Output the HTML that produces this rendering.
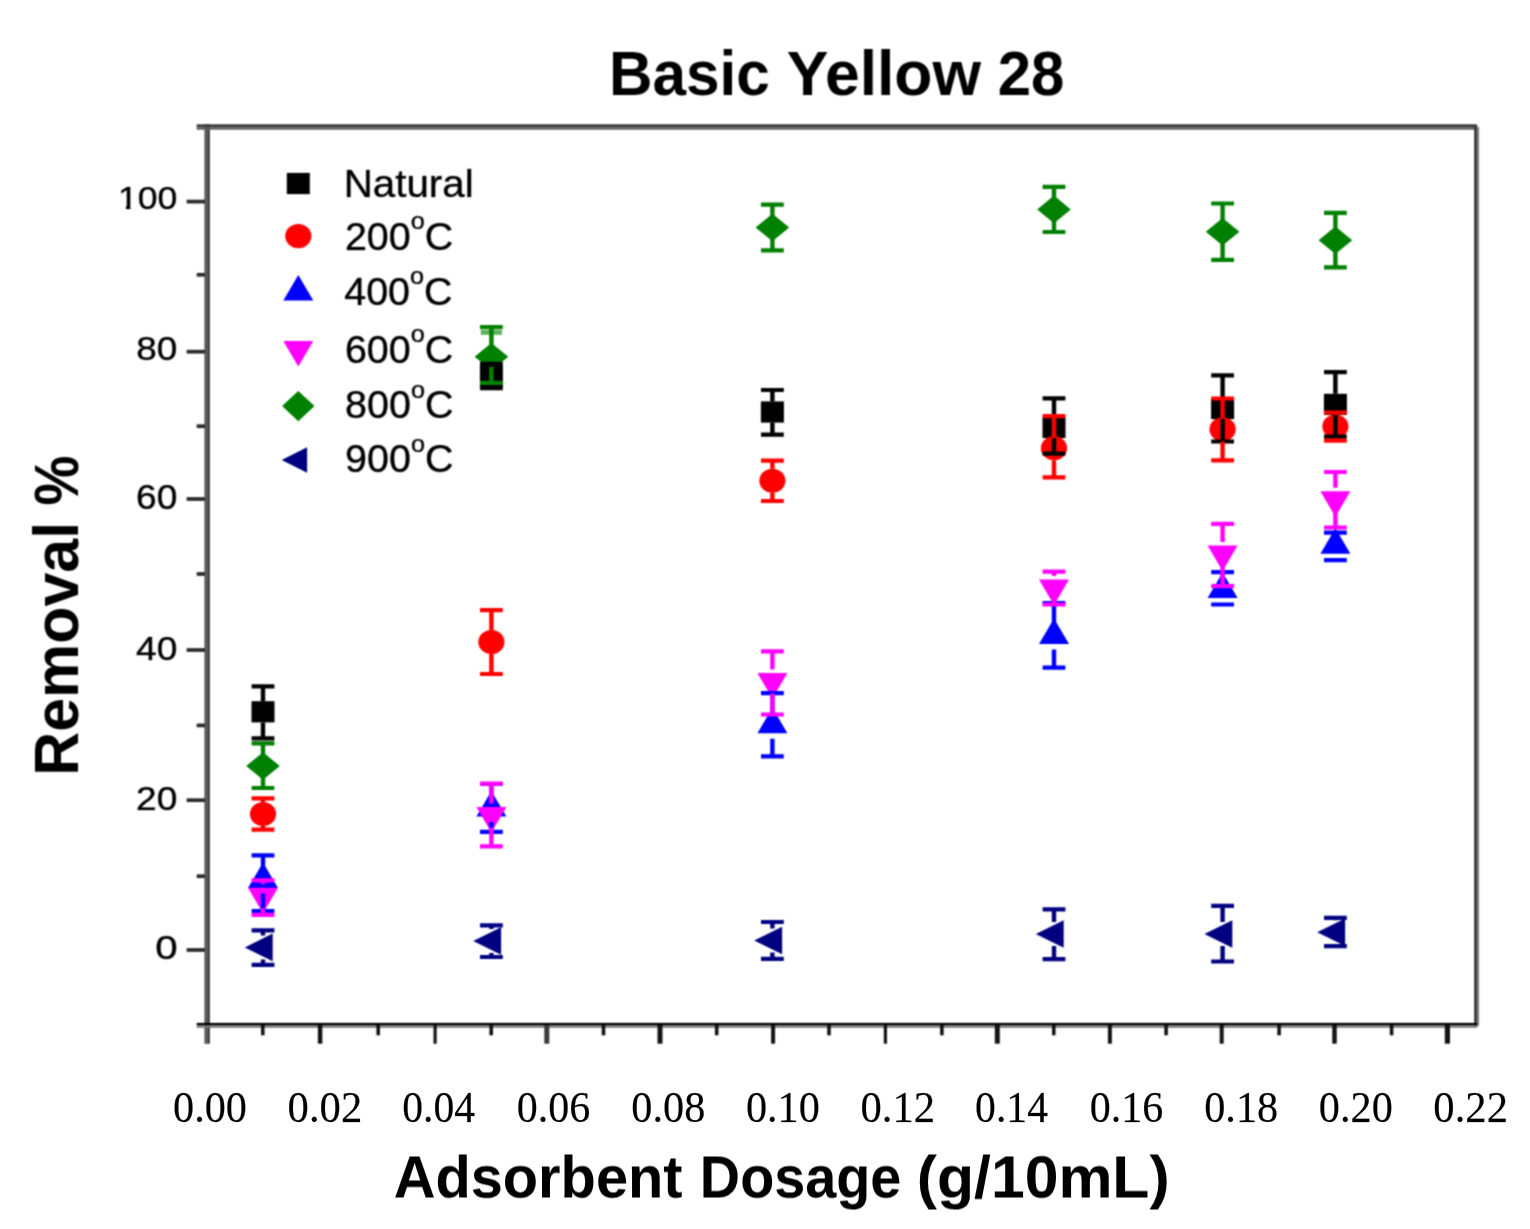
<!DOCTYPE html>
<html lang="en"><head><meta charset="utf-8"><title>Basic Yellow 28</title>
<style>
html,body{margin:0;padding:0;background:#fff;}
body{width:1530px;height:1229px;overflow:hidden;}
svg{display:block;}
text{font-family:"Liberation Sans",sans-serif;fill:#000;}
.ser{font-family:"Liberation Serif",serif;}
.b{font-weight:bold;}
.t{stroke:#000;stroke-width:0.7;stroke-opacity:0.55;paint-order:stroke;}
.s{stroke:#000;stroke-width:0.3;stroke-opacity:0.5;paint-order:stroke;}
</style></head><body>
<svg width="1530" height="1229" viewBox="0 0 1530 1229">
<rect width="1530" height="1229" fill="#fff"/>
<defs><filter id="bl" filterUnits="userSpaceOnUse" x="0" y="0" width="1530" height="1229" color-interpolation-filters="sRGB"><feConvolveMatrix order="3" kernelMatrix="1 2 1 2 4 2 1 2 1" divisor="16" edgeMode="duplicate" preserveAlpha="false"/></filter></defs>
<g filter="url(#bl)">
<text class="b" transform="matrix(1 0 0.0002 1 0 94.70)" font-size="63.24"><tspan x="608.98" textLength="160.84" lengthAdjust="spacingAndGlyphs">Basic</tspan> <tspan x="786.75" textLength="194.28" lengthAdjust="spacingAndGlyphs">Yellow</tspan> <tspan x="997.80" textLength="66.63" lengthAdjust="spacingAndGlyphs">28</tspan></text>
<rect x="204.4" y="124.2" width="2.8" height="919.6" fill="#5a5a5a"/>
<rect x="207.2" y="124.2" width="2.7" height="919.6" fill="#3e3e3e"/>
<rect x="196.7" y="124.3" width="1280.4" height="3" fill="#3c3c3c"/>
<rect x="196.7" y="127.3" width="1280.4" height="2.4" fill="#5c5c5c"/>
<rect x="1474.1" y="126.5" width="2.9" height="899.3" fill="#3e3e3e"/>
<rect x="1477" y="126.8" width="2.1" height="899" fill="#808080"/>
<rect x="196.7" y="1022.9" width="1280.6" height="2.6" fill="#000"/>
<rect x="196.7" y="1025.5" width="1280.6" height="2.3" fill="#7a7a7a"/>
<g stroke="#2e2e2e" stroke-width="3.8" fill="none">
<path d="M186.6,201.6H205"/>
<path d="M196.7,274.8H205"/>
<path d="M186.6,351.7H205"/>
<path d="M196.7,426.2H205"/>
<path d="M186.6,499.0H205"/>
<path d="M196.7,574.0H205"/>
<path d="M186.6,650.0H205"/>
<path d="M196.7,725.4H205"/>
<path d="M186.6,800.2H205"/>
<path d="M196.7,876.2H205"/>
<path d="M186.6,950.0H205"/>
</g>
<g stroke="#141414" fill="none">
<path d="M262.8,1025V1035.3" stroke-width="3.6"/>
<path d="M320.1,1025V1043.7" stroke-width="4.5"/>
<path d="M378.2,1025V1035.3" stroke-width="3.6"/>
<path d="M435.1,1025V1043.7" stroke-width="3.2"/>
<path d="M491.2,1025V1035.3" stroke-width="3.6"/>
<path d="M546.8,1025V1043.7" stroke-width="5" stroke="#3a3a3a"/>
<path d="M603.5,1025V1035.3" stroke-width="3.6"/>
<path d="M660.0,1025V1043.7" stroke-width="5"/>
<path d="M716.7,1025V1035.3" stroke-width="3.6"/>
<path d="M773.1,1025V1043.7" stroke-width="4"/>
<path d="M829.0,1025V1035.3" stroke-width="3.6"/>
<path d="M885.4,1025V1043.7" stroke-width="3.2"/>
<path d="M941.9,1025V1035.3" stroke-width="3.6"/>
<path d="M997.3,1025V1043.7" stroke-width="5"/>
<path d="M1053.8,1025V1035.3" stroke-width="3.6"/>
<path d="M1109.9,1025V1043.7" stroke-width="4"/>
<path d="M1166.1,1025V1035.3" stroke-width="3.6"/>
<path d="M1221.7,1025V1043.7" stroke-width="4"/>
<path d="M1279.1,1025V1035.3" stroke-width="3.6"/>
<path d="M1334.5,1025V1043.7" stroke-width="4.5"/>
<path d="M1391.6,1025V1035.3" stroke-width="3.6"/>
<path d="M1447.4,1025V1043.7" stroke-width="5.2"/>
</g>
<text class="t" transform="matrix(1.1084 0 0.0002 1 117.93 209.20)" font-size="32.14">100</text>
<text class="t" transform="matrix(1.0851 0 0.0002 1 136.24 360.00)" font-size="34.00">80</text>
<text class="t" transform="matrix(1.0724 0 0.0002 1 136.05 508.60)" font-size="34.57">60</text>
<text class="t" transform="matrix(1.0896 0 0.0002 1 136.07 660.30)" font-size="34.00">40</text>
<text class="t" transform="matrix(1.0904 0 0.0002 1 136.05 810.20)" font-size="34.00">20</text>
<text class="t" transform="matrix(1.1777 0 0.0002 1 155.19 958.90)" font-size="34.14">0</text>
<text class="b" transform="translate(78.0,0) rotate(-90) matrix(1 0 0.0002 1 0 0.00)" font-size="63.41"><tspan x="-775.76" textLength="253.83" lengthAdjust="spacingAndGlyphs">Removal</tspan> <tspan x="-505.50" textLength="49.97" lengthAdjust="spacingAndGlyphs">%</tspan></text>
<g fill="#fff"><rect x="119" y="205.4" width="6.9" height="4.6"/><rect x="130.5" y="205.4" width="7" height="4.6"/></g>
<rect x="286.8" y="172.9" width="23" height="21.2" fill="#000000"/>
<text class="t" transform="matrix(1.0318 0 0.0002 1 343.67 197.10)" font-size="39.11">Natural</text>
<ellipse cx="298.3" cy="236.1" rx="13.1" ry="12.1" fill="#ff0000"/>
<text class="t" transform="matrix(1.03 0 0.0002 1 344.93 249.55)" font-size="38.30">200<tspan font-size="24.5" dy="-20.5">o</tspan><tspan dy="20.5">C</tspan></text>
<polygon points="298.3,275.0 313.3,300.5 283.3,300.5" fill="#0000ff"/>
<text class="t" transform="matrix(1.03 0 0.0002 1 344.21 304.60)" font-size="38.30">400<tspan font-size="24.5" dy="-20.5">o</tspan><tspan dy="20.5">C</tspan></text>
<polygon points="298.3,366.4 313.3,340.9 283.3,340.9" fill="#ff00ff"/>
<text class="t" transform="matrix(1.03 0 0.0002 1 344.93 362.75)" font-size="38.30">600<tspan font-size="24.5" dy="-20.5">o</tspan><tspan dy="20.5">C</tspan></text>
<polygon points="298.3,390.9 314.5,406.1 298.3,421.3 282.1,406.1" fill="#008000"/>
<text class="t" transform="matrix(1.03 0 0.0002 1 345.12 418.40)" font-size="38.30">800<tspan font-size="24.5" dy="-20.5">o</tspan><tspan dy="20.5">C</tspan></text>
<polygon points="281.7,460.0 307.1,447.2 307.1,472.8" fill="#000080"/>
<text class="t" transform="matrix(1.03 0 0.0002 1 345.12 472.25)" font-size="38.30">900<tspan font-size="24.5" dy="-20.5">o</tspan><tspan dy="20.5">C</tspan></text>
<polygon points="263.0,752.2 279.8,766.0 263.0,779.8 246.2,766.0" fill="#008000"/>
<polygon points="491.4,343.0 508.2,356.8 491.4,370.6 474.6,356.8" fill="#008000"/>
<polygon points="772.4,213.7 789.2,227.5 772.4,241.3 755.6,227.5" fill="#008000"/>
<polygon points="1054.0,195.6 1070.8,209.4 1054.0,223.2 1037.2,209.4" fill="#008000"/>
<polygon points="1222.6,217.9 1239.4,231.7 1222.6,245.5 1205.8,231.7" fill="#008000"/>
<polygon points="1335.4,226.4 1352.2,240.2 1335.4,254.0 1318.6,240.2" fill="#008000"/>
<polygon points="244.8,947.4 272.7,933.6 272.7,961.2" fill="#000080"/>
<polygon points="473.2,941.0 501.1,927.2 501.1,954.8" fill="#000080"/>
<polygon points="754.2,940.5 782.1,926.7 782.1,954.3" fill="#000080"/>
<polygon points="1035.8,934.0 1063.7,920.2 1063.7,947.8" fill="#000080"/>
<polygon points="1204.4,934.0 1232.3,920.2 1232.3,947.8" fill="#000080"/>
<polygon points="1317.2,932.2 1345.1,918.4 1345.1,946.0" fill="#000080"/>
<rect x="251.5" y="701.2" width="23" height="21.2" fill="#000000"/>
<rect x="479.9" y="365.6" width="23" height="21.2" fill="#000000"/>
<rect x="760.9" y="401.4" width="23" height="21.2" fill="#000000"/>
<rect x="1042.5" y="416.9" width="23" height="21.2" fill="#000000"/>
<rect x="1211.1" y="397.9" width="23" height="21.2" fill="#000000"/>
<rect x="1323.9" y="393.8" width="23" height="21.2" fill="#000000"/>
<ellipse cx="263.0" cy="814.0" rx="13.1" ry="12.1" fill="#ff0000"/>
<ellipse cx="491.4" cy="642.0" rx="13.1" ry="12.1" fill="#ff0000"/>
<ellipse cx="772.4" cy="480.8" rx="13.1" ry="12.1" fill="#ff0000"/>
<ellipse cx="1054.0" cy="448.2" rx="13.1" ry="12.1" fill="#ff0000"/>
<ellipse cx="1222.6" cy="429.4" rx="13.1" ry="12.1" fill="#ff0000"/>
<ellipse cx="1335.4" cy="426.6" rx="13.1" ry="12.1" fill="#ff0000"/>
<polygon points="263.0,862.5 278.0,888.0 248.0,888.0" fill="#0000ff"/>
<polygon points="491.4,791.0 506.4,816.5 476.4,816.5" fill="#0000ff"/>
<polygon points="772.4,707.7 787.4,733.2 757.4,733.2" fill="#0000ff"/>
<polygon points="1054.0,618.4 1069.0,643.9 1039.0,643.9" fill="#0000ff"/>
<polygon points="1222.6,572.5 1237.6,598.0 1207.6,598.0" fill="#0000ff"/>
<polygon points="1335.4,528.2 1350.4,553.7 1320.4,553.7" fill="#0000ff"/>
<polygon points="263.0,913.2 278.0,887.7 248.0,887.7" fill="#ff00ff"/>
<polygon points="491.4,832.5 506.4,807.0 476.4,807.0" fill="#ff00ff"/>
<polygon points="772.4,698.5 787.4,673.0 757.4,673.0" fill="#ff00ff"/>
<polygon points="1054.0,605.0 1069.0,579.5 1039.0,579.5" fill="#ff00ff"/>
<polygon points="1222.6,571.0 1237.6,545.5 1207.6,545.5" fill="#ff00ff"/>
<polygon points="1335.4,516.7 1350.4,491.2 1320.4,491.2" fill="#ff00ff"/>
<rect x="480.8" y="330" width="21.2" height="4.8" fill="#5fb25f"/>
<path d="M263.0,686.3V701.2M263.0,722.4V738.4" stroke="#000000" stroke-width="4.4" fill="none"/><path d="M251.6,686.3H274.4M251.6,738.4H274.4" stroke="#000000" stroke-width="4.2" fill="none"/>
<path d="M491.4,363.8V365.6M491.4,386.8V388.2" stroke="#000000" stroke-width="4.4" fill="none"/><path d="M480.0,363.8H502.8M480.0,388.2H502.8" stroke="#000000" stroke-width="4.2" fill="none"/>
<path d="M772.4,390.0V401.4M772.4,422.6V434.6" stroke="#000000" stroke-width="4.4" fill="none"/><path d="M761.0,390.0H783.8M761.0,434.6H783.8" stroke="#000000" stroke-width="4.2" fill="none"/>
<path d="M1054.0,398.4V416.9M1054.0,438.1V453.6" stroke="#000000" stroke-width="4.4" fill="none"/><path d="M1042.6,398.4H1065.4M1042.6,453.6H1065.4" stroke="#000000" stroke-width="4.2" fill="none"/>
<path d="M1222.6,375.4V397.9M1222.6,419.1V441.5" stroke="#000000" stroke-width="4.4" fill="none"/><path d="M1211.2,375.4H1234.0M1211.2,441.5H1234.0" stroke="#000000" stroke-width="4.2" fill="none"/>
<path d="M1335.4,372.2V393.8M1335.4,415.0V436.7" stroke="#000000" stroke-width="4.4" fill="none"/><path d="M1324.0,372.2H1346.8M1324.0,436.7H1346.8" stroke="#000000" stroke-width="4.2" fill="none"/>
<path d="M263.0,798.3V802.0M263.0,826.0V829.7" stroke="#ff0000" stroke-width="4.4" fill="none"/><path d="M251.6,798.3H274.4M251.6,829.7H274.4" stroke="#ff0000" stroke-width="4.2" fill="none"/>
<path d="M491.4,610.2V630.0M491.4,654.0V674.0" stroke="#ff0000" stroke-width="4.4" fill="none"/><path d="M480.0,610.2H502.8M480.0,674.0H502.8" stroke="#ff0000" stroke-width="4.2" fill="none"/>
<path d="M772.4,460.7V468.8M772.4,492.8V501.0" stroke="#ff0000" stroke-width="4.4" fill="none"/><path d="M761.0,460.7H783.8M761.0,501.0H783.8" stroke="#ff0000" stroke-width="4.2" fill="none"/>
<path d="M1054.0,416.2V436.2M1054.0,460.2V477.4" stroke="#ff0000" stroke-width="4.4" fill="none"/><path d="M1042.6,416.2H1065.4M1042.6,477.4H1065.4" stroke="#ff0000" stroke-width="4.2" fill="none"/>
<path d="M1222.6,398.5V417.4M1222.6,441.4V460.3" stroke="#ff0000" stroke-width="4.4" fill="none"/><path d="M1211.2,398.5H1234.0M1211.2,460.3H1234.0" stroke="#ff0000" stroke-width="4.2" fill="none"/>
<path d="M1335.4,412.5V414.6M1335.4,438.6V440.7" stroke="#ff0000" stroke-width="4.4" fill="none"/><path d="M1324.0,412.5H1346.8M1324.0,440.7H1346.8" stroke="#ff0000" stroke-width="4.2" fill="none"/>
<path d="M263.0,855.4V867.5M263.0,893.5V911.0" stroke="#0000ff" stroke-width="4.4" fill="none"/><path d="M251.6,855.4H274.4M251.6,911.0H274.4" stroke="#0000ff" stroke-width="4.2" fill="none"/>
<path d="M491.4,784.0V796.0M491.4,822.0V831.8" stroke="#0000ff" stroke-width="4.4" fill="none"/><path d="M480.0,784.0H502.8M480.0,831.8H502.8" stroke="#0000ff" stroke-width="4.2" fill="none"/>
<path d="M772.4,693.2V712.7M772.4,738.7V756.3" stroke="#0000ff" stroke-width="4.4" fill="none"/><path d="M761.0,693.2H783.8M761.0,756.3H783.8" stroke="#0000ff" stroke-width="4.2" fill="none"/>
<path d="M1054.0,603.1V623.4M1054.0,649.4V667.6" stroke="#0000ff" stroke-width="4.4" fill="none"/><path d="M1042.6,603.1H1065.4M1042.6,667.6H1065.4" stroke="#0000ff" stroke-width="4.2" fill="none"/>
<path d="M1222.6,572.2V577.5M1222.6,603.5V604.5" stroke="#0000ff" stroke-width="4.4" fill="none"/><path d="M1211.2,572.2H1234.0M1211.2,604.5H1234.0" stroke="#0000ff" stroke-width="4.2" fill="none"/>
<path d="M1335.4,532.6V533.2M1335.4,559.2V560.2" stroke="#0000ff" stroke-width="4.4" fill="none"/><path d="M1324.0,532.6H1346.8M1324.0,560.2H1346.8" stroke="#0000ff" stroke-width="4.2" fill="none"/>
<path d="M263.0,880.3V884.2M263.0,908.2V914.8" stroke="#ff00ff" stroke-width="4.4" fill="none"/><path d="M251.6,880.3H274.4M251.6,914.8H274.4" stroke="#ff00ff" stroke-width="4.2" fill="none"/>
<path d="M491.4,783.7V803.5M491.4,827.5V846.4" stroke="#ff00ff" stroke-width="4.4" fill="none"/><path d="M480.0,783.7H502.8M480.0,846.4H502.8" stroke="#ff00ff" stroke-width="4.2" fill="none"/>
<path d="M772.4,651.4V669.5M772.4,693.5V714.5" stroke="#ff00ff" stroke-width="4.4" fill="none"/><path d="M761.0,651.4H783.8M761.0,714.5H783.8" stroke="#ff00ff" stroke-width="4.2" fill="none"/>
<path d="M1054.0,571.7V576.0M1054.0,600.0V604.5" stroke="#ff00ff" stroke-width="4.4" fill="none"/><path d="M1042.6,571.7H1065.4M1042.6,604.5H1065.4" stroke="#ff00ff" stroke-width="4.2" fill="none"/>
<path d="M1222.6,523.8V542.0M1222.6,566.0V586.1" stroke="#ff00ff" stroke-width="4.4" fill="none"/><path d="M1211.2,523.8H1234.0M1211.2,586.1H1234.0" stroke="#ff00ff" stroke-width="4.2" fill="none"/>
<path d="M1335.4,472.0V487.7M1335.4,511.7V527.5" stroke="#ff00ff" stroke-width="4.4" fill="none"/><path d="M1324.0,472.0H1346.8M1324.0,527.5H1346.8" stroke="#ff00ff" stroke-width="4.2" fill="none"/>
<path d="M263.0,743.3V756.0M263.0,776.0V788.0" stroke="#008000" stroke-width="4.4" fill="none"/><path d="M251.6,743.3H274.4M251.6,788.0H274.4" stroke="#008000" stroke-width="4.2" fill="none"/>
<path d="M491.4,327.2V346.8M491.4,366.8V382.8" stroke="#008000" stroke-width="4.4" fill="none"/><path d="M480.0,327.2H502.8M480.0,382.8H502.8" stroke="#008000" stroke-width="4.2" fill="none"/>
<path d="M772.4,204.7V217.5M772.4,237.5V250.4" stroke="#008000" stroke-width="4.4" fill="none"/><path d="M761.0,204.7H783.8M761.0,250.4H783.8" stroke="#008000" stroke-width="4.2" fill="none"/>
<path d="M1054.0,186.9V199.4M1054.0,219.4V232.0" stroke="#008000" stroke-width="4.4" fill="none"/><path d="M1042.6,186.9H1065.4M1042.6,232.0H1065.4" stroke="#008000" stroke-width="4.2" fill="none"/>
<path d="M1222.6,203.5V221.7M1222.6,241.7V259.9" stroke="#008000" stroke-width="4.4" fill="none"/><path d="M1211.2,203.5H1234.0M1211.2,259.9H1234.0" stroke="#008000" stroke-width="4.2" fill="none"/>
<path d="M1335.4,212.9V230.2M1335.4,250.2V267.4" stroke="#008000" stroke-width="4.4" fill="none"/><path d="M1324.0,212.9H1346.8M1324.0,267.4H1346.8" stroke="#008000" stroke-width="4.2" fill="none"/>
<path d="M263.0,930.4V935.4M263.0,959.4V964.9" stroke="#000080" stroke-width="4.4" fill="none"/><path d="M251.6,930.4H274.4M251.6,964.9H274.4" stroke="#000080" stroke-width="4.2" fill="none"/>
<path d="M491.4,925.3V929.0M491.4,953.0V957.0" stroke="#000080" stroke-width="4.4" fill="none"/><path d="M480.0,925.3H502.8M480.0,957.0H502.8" stroke="#000080" stroke-width="4.2" fill="none"/>
<path d="M772.4,922.0V928.5M772.4,952.5V958.8" stroke="#000080" stroke-width="4.4" fill="none"/><path d="M761.0,922.0H783.8M761.0,958.8H783.8" stroke="#000080" stroke-width="4.2" fill="none"/>
<path d="M1054.0,909.3V922.0M1054.0,946.0V959.1" stroke="#000080" stroke-width="4.4" fill="none"/><path d="M1042.6,909.3H1065.4M1042.6,959.1H1065.4" stroke="#000080" stroke-width="4.2" fill="none"/>
<path d="M1222.6,905.8V922.0M1222.6,946.0V961.5" stroke="#000080" stroke-width="4.4" fill="none"/><path d="M1211.2,905.8H1234.0M1211.2,961.5H1234.0" stroke="#000080" stroke-width="4.2" fill="none"/>
<path d="M1335.4,917.9V920.2M1335.4,944.2V946.2" stroke="#000080" stroke-width="4.4" fill="none"/><path d="M1324.0,917.9H1346.8M1324.0,946.2H1346.8" stroke="#000080" stroke-width="4.2" fill="none"/>
</g>
<text class="ser s" transform="matrix(0.9694 0 0.0002 1 173.01 1122.20)" font-size="43.61">0.00</text>
<text class="ser s" transform="matrix(0.9782 0 0.0002 1 287.57 1122.20)" font-size="43.61">0.02</text>
<text class="ser s" transform="matrix(0.9551 0 0.0002 1 402.19 1122.20)" font-size="43.61">0.04</text>
<text class="ser s" transform="matrix(0.9636 0 0.0002 1 516.76 1122.20)" font-size="43.61">0.06</text>
<text class="ser s" transform="matrix(0.9694 0 0.0002 1 631.33 1122.20)" font-size="43.61">0.08</text>
<text class="ser s" transform="matrix(0.9694 0 0.0002 1 745.91 1122.20)" font-size="43.61">0.10</text>
<text class="ser s" transform="matrix(0.9782 0 0.0002 1 860.47 1122.20)" font-size="43.61">0.12</text>
<text class="ser s" transform="matrix(0.9551 0 0.0002 1 975.09 1122.20)" font-size="43.61">0.14</text>
<text class="ser s" transform="matrix(0.9636 0 0.0002 1 1089.66 1122.20)" font-size="43.61">0.16</text>
<text class="ser s" transform="matrix(0.9694 0 0.0002 1 1204.23 1122.20)" font-size="43.61">0.18</text>
<text class="ser s" transform="matrix(0.9694 0 0.0002 1 1318.81 1122.20)" font-size="43.61">0.20</text>
<text class="ser s" transform="matrix(0.9782 0 0.0002 1 1433.37 1122.20)" font-size="43.61">0.22</text>
<text class="b" transform="matrix(1 0 0.0002 1 0 1197.50)" font-size="59.77"><tspan x="393.66" textLength="288.92" lengthAdjust="spacingAndGlyphs">Adsorbent</tspan> <tspan x="699.87" textLength="201.53" lengthAdjust="spacingAndGlyphs">Dosage</tspan> <tspan x="916.77" textLength="252.89" lengthAdjust="spacingAndGlyphs">(g/10mL)</tspan></text>
</svg>
</body></html>
